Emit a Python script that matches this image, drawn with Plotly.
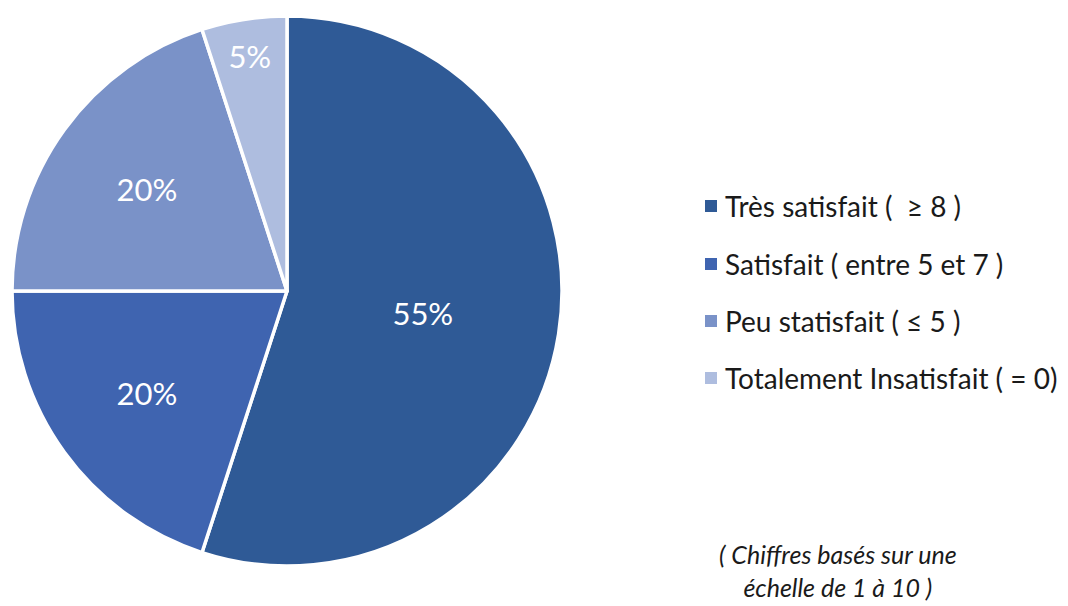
import plotly.graph_objects as go

categories = ["Très satisfait (  ≥ 8 )", "Satisfait ( entre 5 et 7 )", "Peu statisfait ( ≤ 5 )", "Totalement Insatisfait ( = 0)"]
values = [55, 20, 20, 5]
colors = ["#2F5A96", "#3F64B0", "#7A92C8", "#AEBDDF"]

W, H = 1068, 606
OFF = 8  # page body margin
font_family = "Lato, 'Open Sans', sans-serif"


def px(x):
    return (x - OFF) / W


def py(y):
    return 1 - (y - OFF) / H


fig = go.Figure()
fig.add_trace(go.Pie(
    labels=categories,
    values=values,
    sort=False,
    direction="clockwise",
    rotation=0,
    marker=dict(colors=colors, line=dict(color="white", width=3.5)),
    texttemplate="%{value}%",
    textposition="inside",
    insidetextorientation="horizontal",
    textfont=dict(color="white", size=31, family=font_family),
    showlegend=False,
    domain=dict(x=[px(12), px(562)], y=[py(566), py(16)]),
    hoverinfo="label+percent",
))

# Manual legend
leg_y = [206, 264, 321, 378]
for cat, col, yy in zip(categories, colors, leg_y):
    fig.add_shape(type="rect", xref="paper", yref="paper",
                  x0=px(705), x1=px(717), y0=py(yy + 6), y1=py(yy - 6),
                  fillcolor=col, line=dict(width=0))
    fig.add_annotation(x=px(723), y=py(yy), xref="paper", yref="paper",
                       text=cat, showarrow=False, xanchor="left", yanchor="middle",
                       font=dict(size=28, color="#1a1a1a", family=font_family))

fig.add_annotation(x=px(838), y=py(570), xref="paper", yref="paper",
                   text="<i>( Chiffres basés sur une<br>échelle de 1 à 10 )</i>",
                   showarrow=False, xanchor="center", yanchor="middle", align="center",
                   font=dict(size=25, color="#1a1a1a", family=font_family))

fig.update_layout(width=W, height=H, margin=dict(l=0, r=0, t=0, b=0),
                  paper_bgcolor="white", plot_bgcolor="white")
fig.write_html("out.html")
